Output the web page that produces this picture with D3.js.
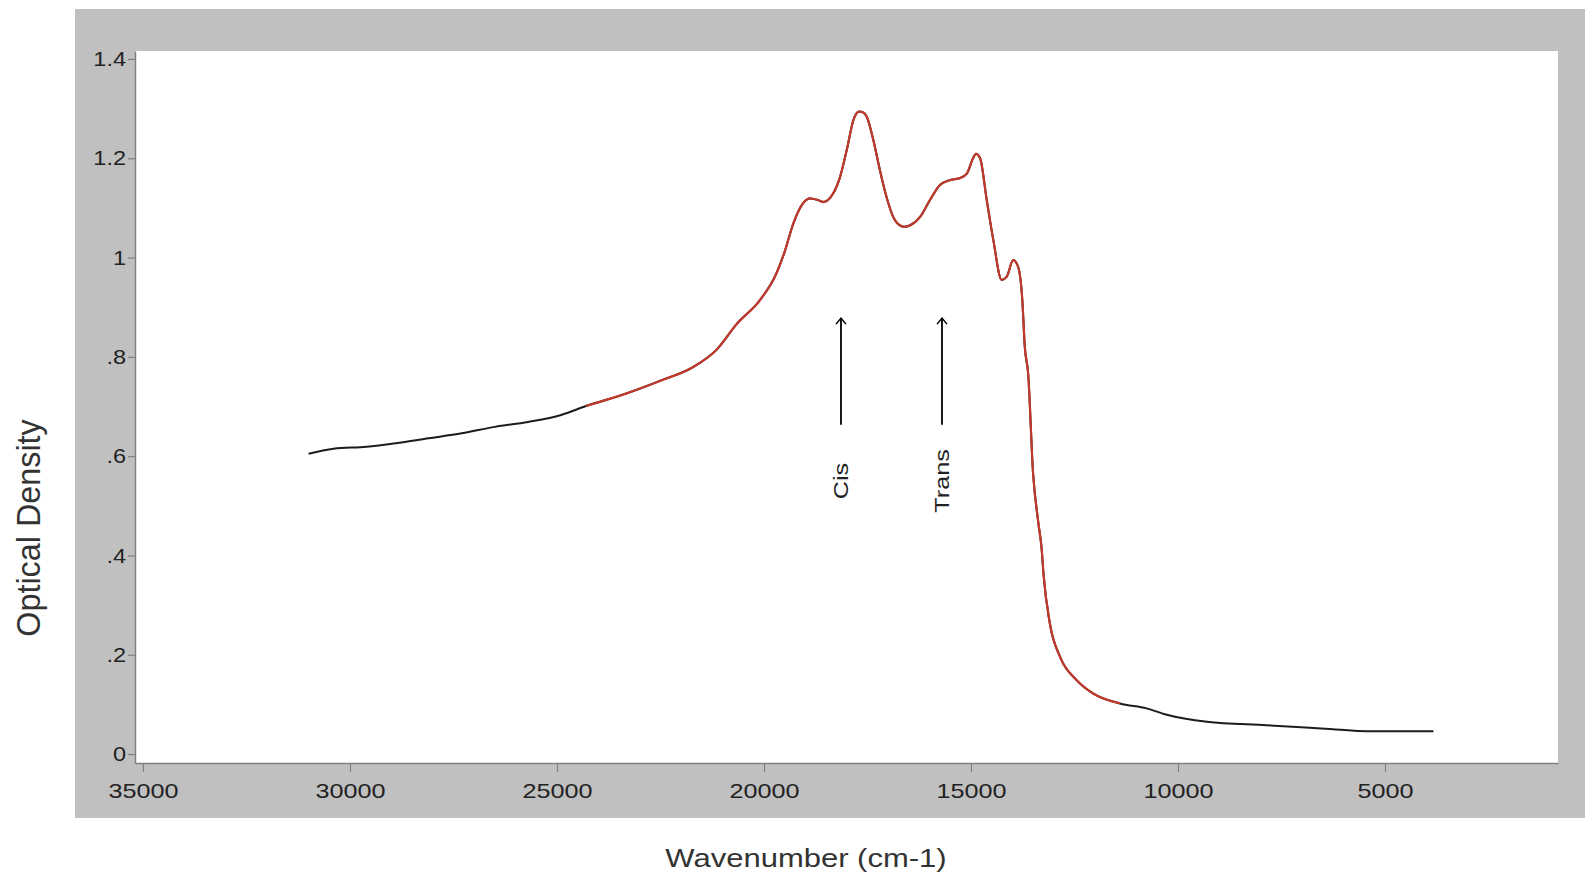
<!DOCTYPE html>
<html>
<head>
<meta charset="utf-8">
<script src="https://cdn.jsdelivr.net/npm/d3@7"></script>
<style>
body { margin: 0; background: #fff; }
text { font-family: "Liberation Sans", Arial, sans-serif; fill: #222; }
</style>
</head>
<body>
<svg id="chart" width="1585" height="875"></svg>
<script>
// spectrum: wavenumber (cm-1) and optical density
let wavenumber = [31000, 30400, 29600, 28900, 28100, 27300, 26500, 25700, 24900, 24300,
                  23300, 22500, 21700, 21150, 20650, 20100, 19700, 19500,
                  19290, 19050, 18890, 18700, 18570, 18330, 18160, 18000, 17840, 17700,
                  17600, 17520, 17360, 17200, 17040, 16880, 16720, 16600, 16470, 16230,
                  15990, 15750, 15510, 15270, 15100, 14950, 14880, 14780, 14620, 14460,
                  14260, 14140, 13980, 13860, 13760, 13700, 13620, 13500, 13380, 13290,
                  13250, 13095, 12850, 12450, 12050, 11400, 10760, 10270, 9300, 7860,
                  6250, 5440, 3830];
let density = [0.605, 0.615, 0.619, 0.626, 0.636, 0.646, 0.659, 0.669, 0.683, 0.701,
               0.727, 0.752, 0.780, 0.814, 0.867, 0.914, 0.968, 1.012,
               1.069, 1.110, 1.119, 1.116, 1.112, 1.129, 1.163, 1.217, 1.277, 1.294,
               1.292, 1.284, 1.237, 1.176, 1.122, 1.082, 1.065, 1.062, 1.065, 1.082,
               1.116, 1.146, 1.156, 1.160, 1.169, 1.200, 1.209, 1.200, 1.116, 1.035,
               0.955, 0.961, 0.995, 0.981, 0.914, 0.820, 0.767, 0.565, 0.470, 0.410,
               0.364, 0.263, 0.196, 0.149, 0.122, 0.102, 0.092, 0.079, 0.065, 0.058,
               0.050, 0.046, 0.046];

// part of the trace drawn in red
let red_from = 24400;
let red_to = 11400;

let x_ticks = [35000, 30000, 25000, 20000, 15000, 10000, 5000];
let y_ticks = [0, 0.2, 0.4, 0.6, 0.8, 1, 1.2, 1.4];
let y_tick_labels = ["0", ".2", ".4", ".6", ".8", "1", "1.2", "1.4"];

// arrows
let notes = ["Cis", "Trans"];
let note_wavenumber = [18140, 15700];
let note_from = 0.663;
let note_to = 0.878;
let note_text_at = 0.55;

// colours
let color_panel = "#c0c0c0";
let color_axis = "#808080";
let color_line = "#1c1c1c";
let color_red = "#c0392b";

// layout
let panel = {left: 75, top: 9, right: 1585, bottom: 818};
let plot = {left: 135, top: 51, right: 1558, bottom: 763};

let svg = d3.select("#chart");

let x = d3.scaleLinear().domain([35193, 821]).range([plot.left, plot.right]);
let y = d3.scaleLinear().domain([-0.018, 1.416]).range([plot.bottom, plot.top]);

// stretch text a bit wider, the original font runs wide
function widen(sel, k) {
    sel.each(function() {
        let w = this.getComputedTextLength();
        d3.select(this).attr("textLength", w * k).attr("lengthAdjust", "spacingAndGlyphs");
    });
}

svg.append("rect")
   .attr("x", panel.left).attr("y", panel.top)
   .attr("width", panel.right - panel.left).attr("height", panel.bottom - panel.top)
   .attr("fill", color_panel);

svg.append("rect")
   .attr("x", plot.left).attr("y", plot.top)
   .attr("width", plot.right - plot.left).attr("height", plot.bottom - plot.top)
   .attr("fill", "#fff");

// axes
let y_axis = svg.append("g")
    .attr("transform", "translate(" + plot.left + ",0)")
    .call(d3.axisLeft(y).tickValues(y_ticks)
            .tickFormat((d, i) => y_tick_labels[i])
            .tickSize(7).tickPadding(2).tickSizeOuter(0));

let x_axis = svg.append("g")
    .attr("transform", "translate(0," + plot.bottom + ")")
    .call(d3.axisBottom(x).tickValues(x_ticks)
            .tickFormat(d3.format("d"))
            .tickSize(9).tickPadding(11).tickSizeOuter(0));

[y_axis, x_axis].forEach(g => {
    g.select(".domain").attr("stroke", color_axis).attr("stroke-width", 1.5);
    g.selectAll(".tick line").attr("stroke", color_axis).attr("stroke-width", 1.2);
    g.selectAll("text").attr("font-size", 21).attr("font-family", null).style("fill", "#222");
});
widen(y_axis.selectAll("text"), 1.12);
widen(x_axis.selectAll("text"), 1.2);

// trace
let points = wavenumber.map((w, i) => ({w: w, d: density[i]}));
let line = d3.line()
    .x(p => x(p.w))
    .y(p => y(p.d))
    .curve(d3.curveMonotoneX);

svg.append("path")
   .datum(points)
   .attr("d", line)
   .attr("fill", "none")
   .attr("stroke", color_line)
   .attr("stroke-width", 2);

svg.append("path")
   .datum(points.filter(p => p.w <= red_from && p.w >= red_to))
   .attr("d", line)
   .attr("fill", "none")
   .attr("stroke", color_red)
   .attr("stroke-width", 2.2);

// arrows + labels
notes.forEach((note, i) => {
    let ax = x(note_wavenumber[i]);
    let top = y(note_to);
    svg.append("line")
       .attr("x1", ax).attr("x2", ax)
       .attr("y1", y(note_from)).attr("y2", top)
       .attr("stroke", "#000").attr("stroke-width", 1.8);
    svg.append("path")
       .attr("d", "M" + (ax - 5) + "," + (top + 6) + "L" + ax + "," + top + "L" + (ax + 5) + "," + (top + 6))
       .attr("fill", "none").attr("stroke", "#000").attr("stroke-width", 1.5);
    let t = svg.append("text")
       .attr("transform", "translate(" + (ax + 7) + "," + y(note_text_at) + ") rotate(-90)")
       .attr("text-anchor", "middle")
       .attr("font-size", 21)
       .text(note);
    widen(t, 1.2);
});

// axis titles
let y_title = svg.append("text")
   .attr("transform", "translate(40,528) rotate(-90)")
   .attr("text-anchor", "middle")
   .attr("font-size", 33)
   .style("fill", "#333")
   .text("Optical Density");
widen(y_title, 0.98);

let x_title = svg.append("text")
   .attr("x", 806).attr("y", 867)
   .attr("text-anchor", "middle")
   .attr("font-size", 25)
   .style("fill", "#333")
   .text("Wavenumber (cm-1)");
widen(x_title, 1.24);
</script>
</body>
</html>
